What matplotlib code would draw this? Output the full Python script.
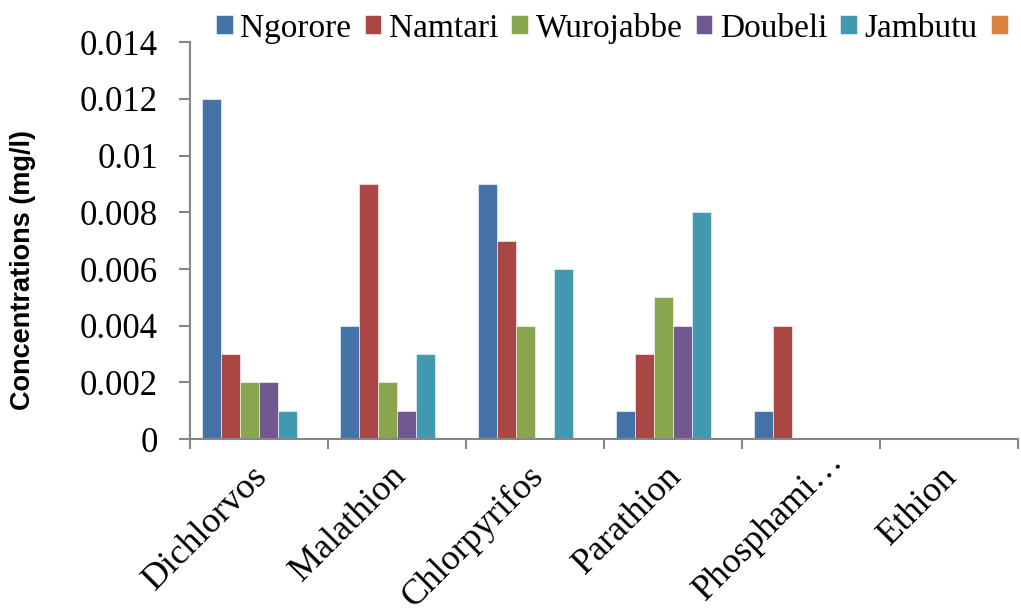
import numpy as np
import matplotlib
matplotlib.use('Agg')
import matplotlib.pyplot as plt
import matplotlib.transforms as mtransforms
from matplotlib.ticker import FixedLocator

# chart data
pesticides = ['Dichlorvos', 'Malathion', 'Chlorpyrifos', 'Parathion', 'Phosphami…', 'Ethion']
sites = ['Ngorore', 'Namtari', 'Wurojabbe', 'Doubeli', 'Jambutu', '']
ngorore = [0.012, 0.004, 0.009, 0.001, 0.001, 0]
namtari = [0.003, 0.009, 0.007, 0.003, 0.004, 0]
wurojabbe = [0.002, 0.002, 0.004, 0.005, 0, 0]
doubeli = [0.002, 0.001, 0, 0.004, 0, 0]
jambutu = [0.001, 0.003, 0.006, 0.008, 0, 0]
blank = [0, 0, 0, 0, 0, 0]
yticks = [0, 0.002, 0.004, 0.006, 0.008, 0.01, 0.012, 0.014]
ytick_labels = ['0', '0.002', '0.004', '0.006', '0.008', '0.01', '0.012', '0.014']

colors = ['#4572A7', '#AA4643', '#89A54E', '#71588F', '#4198AF', '#DB843D']
series = [ngorore, namtari, wurojabbe, doubeli, jambutu, blank]

serif = ['Liberation Serif', 'DejaVu Serif']
axis_grey = '#868686'

fig = plt.figure(figsize=(10.21, 6.10), dpi=100)
ax = fig.add_axes([0.186, 0.280, 0.811, 0.651])

x = np.arange(len(pesticides))
width = 0.82 / len(series)
handles = []
for i, vals in enumerate(series):
    offset = (i - (len(series) - 1) / 2) * width
    b = ax.bar(x + offset, vals, width, color=colors[i], edgecolor='white',
               linewidth=0.4, label=sites[i])
    handles.append(b)

ax.set_xlim(-0.5, len(pesticides) - 0.5)
ax.set_ylim(0, 0.014)

ax.set_yticks(yticks)
ax.set_yticklabels(ytick_labels, family=serif, fontsize=25)
ax.tick_params(axis='y', length=8, width=1.5, color=axis_grey, pad=15)

# category labels at centres, tick marks at boundaries
ax.set_xticks(x)
ax.set_xticklabels(pesticides, family=serif, fontsize=26, rotation=45,
                   ha='right', rotation_mode='anchor')
ax.tick_params(axis='x', which='major', length=0, pad=17)
for lbl in ax.get_xticklabels():
    dx, dy = -8, 3
    if lbl.get_text().endswith('…'):
        # the truncated label sits further up and right in the original
        dx, dy = 16, 18
    shift = mtransforms.ScaledTranslation(dx / 100, dy / 100, fig.dpi_scale_trans)
    lbl.set_transform(lbl.get_transform() + shift)
ax.xaxis.set_minor_locator(FixedLocator(np.arange(-0.5, len(pesticides), 1.0)))
ax.tick_params(axis='x', which='minor', length=7.5, width=1.5, color=axis_grey)

for side in ['top', 'right']:
    ax.spines[side].set_visible(False)
for side in ['left', 'bottom']:
    ax.spines[side].set_color(axis_grey)
    ax.spines[side].set_linewidth(1.5)

ax.set_ylabel('Concentrations (mg/l)', family=['Liberation Sans', 'DejaVu Sans'],
              fontsize=19.5, fontweight='bold')
ax.yaxis.set_label_coords(-0.186, 0.426)

fig.legend(handles=handles, labels=sites, loc='center', bbox_to_anchor=(0.603, 0.954),
           ncol=6, frameon=False, prop={'family': serif, 'size': 24},
           handlelength=0.5, handleheight=0.5, handletextpad=0.22,
           columnspacing=0.4, borderpad=0)

fig.savefig('out.png', dpi=100)
